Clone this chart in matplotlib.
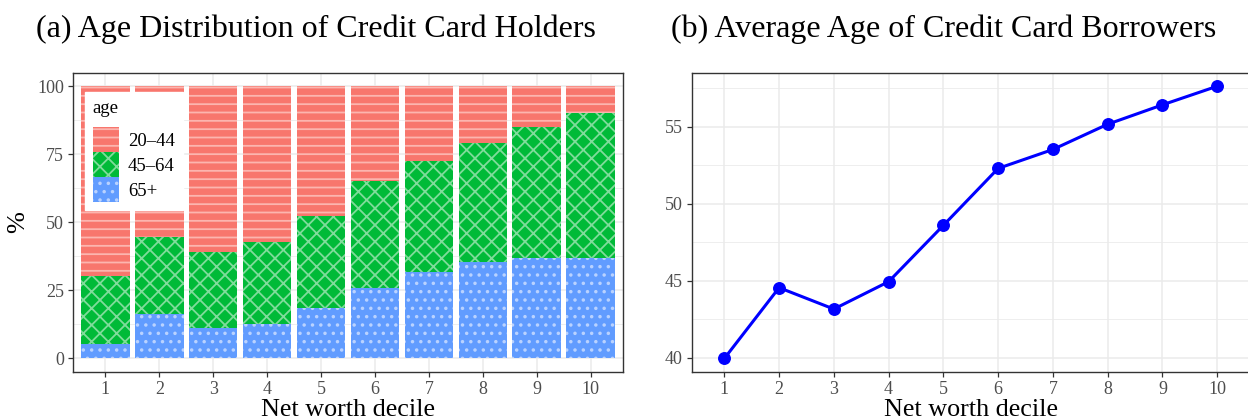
import numpy as np
import matplotlib as mpl
mpl.use('agg')
import matplotlib.pyplot as plt
from matplotlib.patches import Patch
from matplotlib.ticker import MultipleLocator

deciles = np.arange(1, 11)
age_groups = ["20\u201344", "45\u201364", "65+"]
share_20_44 = [69.7, 55.5, 60.8, 57.2, 47.5, 34.9, 27.6, 20.7, 15.1, 9.9]
share_45_64 = [25.0, 28.0, 27.9, 30.3, 33.8, 39.4, 40.7, 43.8, 48.0, 53.2]
share_65 = [5.3, 16.5, 11.3, 12.5, 18.7, 25.7, 31.7, 35.5, 36.9, 36.9]
avg_age = [39.95, 44.55, 43.16, 44.94, 48.6, 52.3, 53.53, 55.17, 56.43, 57.64]

fills = ["#F8766D", "#00BA38", "#619CFF"]
hatch_cols = ["#FCB5AF", "#80DC9B", "#B9D2FF"]
hatches = ["--", "xx", ".."]

plt.rcParams['font.family'] = ['Liberation Serif', 'DejaVu Serif']
plt.rcParams['hatch.linewidth'] = 1.3
grid_col = "#EBEBEB"
frame_col = "#333333"
tick_col = "#4D4D4D"

W, H = 1248, 419
fig = plt.figure(figsize=(W / 100, H / 100), dpi=100)


def px_axes(x0, y0, x1, y1):
    return fig.add_axes([x0 / W, 1 - y1 / H, (x1 - x0) / W, (y1 - y0) / H])


def style(ax):
    ax.set_axisbelow(True)
    ax.grid(which='major', color=grid_col, linewidth=1.1)
    ax.grid(which='minor', color=grid_col, linewidth=0.6)
    for s in ax.spines.values():
        s.set_color(frame_col)
        s.set_linewidth(1.0)
    ax.tick_params(which='major', length=3.5, width=0.9, color=frame_col,
                   labelcolor=tick_col, labelsize=13, pad=3)
    ax.tick_params(which='minor', length=0)
    ax.set_xticks(deciles)
    ax.set_xlim(0.4, 10.6)
    ax.set_xlabel("Net worth decile", fontsize=18.8, labelpad=1)


# (a) stacked bars
ax1 = px_axes(73, 72.7, 623, 372)
style(ax1)
bottom = np.zeros(len(deciles))
stacks = [share_65, share_45_64, share_20_44]
order = [2, 1, 0]
for vals, k in zip(stacks, order):
    ax1.bar(deciles, vals, width=0.9, bottom=bottom, color=fills[k],
            edgecolor=hatch_cols[k], linewidth=0, hatch=hatches[k])
    bottom += np.array(vals)
ax1.set_ylim(-5, 105)
ax1.set_yticks([0, 25, 50, 75, 100])
ax1.yaxis.set_minor_locator(MultipleLocator(12.5))
ax1.set_ylabel("%", fontsize=19, labelpad=6)

handles = [Patch(facecolor=fills[k], edgecolor=hatch_cols[k], linewidth=0,
                 hatch=hatches[k]) for k in range(3)]
leg = ax1.legend(handles, age_groups, title="age", loc='upper left',
                 bbox_to_anchor=(85 / W, 1 - 91.7 / H),
                 bbox_transform=fig.transFigure, borderaxespad=0,
                 fontsize=13.5, title_fontsize=13.5, alignment='left',
                 handlelength=1.42, handleheight=1.674, labelspacing=0,
                 handletextpad=0.45, borderpad=0.42, fancybox=False,
                 framealpha=1, edgecolor='white')
leg._legend_handle_box.sep = 0
leg._legend_box.sep = 7.5

# (b) average age
ax2 = px_axes(691.5, 72.7, 1250, 372)
style(ax2)
ax2.plot(deciles, avg_age, color="#0000FF", linewidth=2.2, marker='o',
         markersize=8.3)
ax2.set_ylim(39.07, 58.52)
ax2.set_yticks([40, 45, 50, 55])
ax2.yaxis.set_minor_locator(MultipleLocator(2.5))

fig.text(316 / W, 1 - 37 / H, "(a) Age Distribution of Credit Card Holders",
         ha='center', va='baseline', fontsize=23)
fig.text(944 / W, 1 - 37 / H, "(b) Average Age of Credit Card Borrowers",
         ha='center', va='baseline', fontsize=23)

fig.savefig("out.png", dpi=100)
